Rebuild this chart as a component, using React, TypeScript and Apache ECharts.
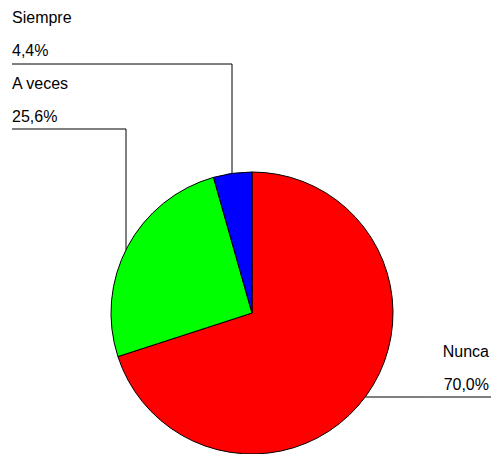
import React, { useEffect, useRef } from "react";
import * as echarts from "echarts";

const categories = ["Nunca", "A veces", "Siempre"];
const values = [70.0, 25.6, 4.4];
const colors = ["#FF0000", "#00FF00", "#0000FF"];

const CX = 252;
const CY = 313;
const R = 141;
const FONT = 16;
const LH = 33;

// label anchor layout: [textX, textTop, align, lineY, lineEndX, attachX or null]
const labelLayoutSpec = [
  { x: 489, top: 335, align: "right", lineY: 397, lineEnd: 491, vertX: null },
  { x: 12, top: 67, align: "left", lineY: 129, lineEnd: 12, vertX: 126 },
  { x: 12, top: 1, align: "left", lineY: 64, lineEnd: 12, vertX: 232 },
];

const fmt = (v: number) => v.toFixed(1).replace(".", ",") + "%";

export default function App() {
  const ref = useRef<HTMLDivElement>(null);
  useEffect(() => {
    const chart = echarts.init(ref.current!, null, { renderer: "svg" });
    chart.setOption({
      animation: false,
      series: [
        {
          type: "pie",
          center: [CX, CY],
          radius: R,
          startAngle: 90,
          clockwise: true,
          data: categories.map((c, i) => ({
            name: c,
            value: values[i],
            itemStyle: { color: colors[i] },
          })),
          itemStyle: { borderColor: "#000", borderWidth: 1 },
          label: {
            show: true,
            formatter: (p: any) => p.name + "\n" + fmt(p.value),
            color: "#000",
            fontFamily: "Liberation Sans, Arial, sans-serif",
            fontSize: FONT,
            lineHeight: LH,
          },
          labelLine: {
            show: true,
            lineStyle: { color: "#000", width: 1 },
          },
          emphasis: { disabled: true },
          labelLayout: (params: any) => {
            const s = labelLayoutSpec[params.dataIndex];
            let pts: number[][];
            if (s.vertX === null) {
              const dy = s.lineY - CY;
              const ax = CX + Math.sqrt(R * R - dy * dy);
              pts = [
                [ax, s.lineY],
                [(ax + s.lineEnd) / 2, s.lineY],
                [s.lineEnd, s.lineY],
              ];
            } else {
              const dx = s.vertX - CX;
              const ay = CY - Math.sqrt(R * R - dx * dx);
              pts = [
                [s.vertX, ay],
                [s.vertX, s.lineY],
                [s.lineEnd, s.lineY],
              ];
            }
            return {
              x: s.x,
              y: s.top,
              align: s.align,
              verticalAlign: "top",
              labelLinePoints: pts,
            };
          },
        },
      ],
    });
    return () => chart.dispose();
  }, []);
  return (
    <div
      ref={ref}
      style={{ position: "absolute", left: 0, top: 0, width: 492, height: 454 }}
    />
  );
}
